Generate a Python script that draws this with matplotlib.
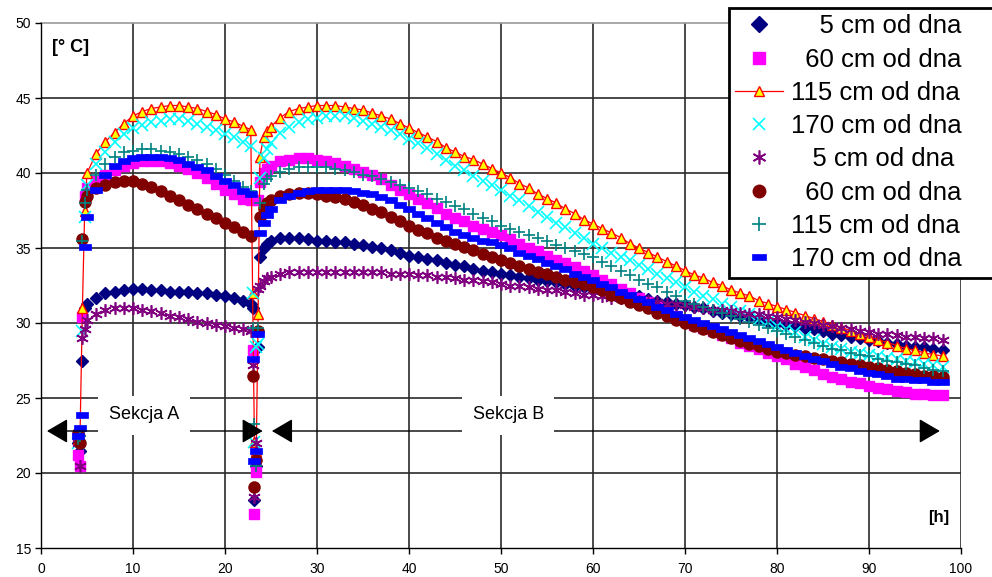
import matplotlib
matplotlib.use("Agg")
import matplotlib.pyplot as plt
from matplotlib.lines import Line2D
from matplotlib.patches import Rectangle

plt.rcParams['font.family'] = ['Liberation Sans', 'DejaVu Sans']

# ---------------- data ----------------
# time grid [h]: section A (filling + curve), transition, section B
t_A = [4.0, 4.25, 4.5, 4.75, 5, 6, 7, 8, 9, 10, 11, 12, 13, 14, 15, 16, 17,
       18, 19, 20, 21, 22, 22.8]
t_D = [23.0, 23.2, 23.4, 23.6]
t_B = [23.8, 24.2, 24.6] + list(range(25, 99))

labels = ["    5 cm od dna", "  60 cm od dna", "115 cm od dna", "170 cm od dna",
          "   5 cm od dna", "  60 cm od dna", "115 cm od dna", "170 cm od dna"]

s1_A = [22.0, 21.5, 27.5, 31.0, 31.3, 31.7, 32.0, 32.1, 32.2, 32.3, 32.3, 32.2,
        32.2, 32.1, 32.1, 32.1, 32.0, 32.0, 31.9, 31.8, 31.7, 31.5, 31.3]
s1_D = [31.0, 18.2, 20.5, 28.4]
s1_B = [34.4, 35.0, 35.3,
        35.5, 35.7, 35.7, 35.7, 35.6, 35.5, 35.5, 35.4, 35.4, 35.3,
        35.2, 35.1, 35.0, 34.9, 34.7, 34.5, 34.4, 34.3, 34.2, 34.0,
        33.9, 33.8, 33.6, 33.5, 33.4, 33.3, 33.2, 33.1, 33.0, 32.9,
        32.8, 32.7, 32.6, 32.5, 32.4, 32.3, 32.2, 32.1, 32.0, 31.9,
        31.8, 31.6, 31.5, 31.4, 31.3, 31.2, 31.1, 31.0, 30.8, 30.7,
        30.6, 30.5, 30.4, 30.3, 30.1, 30.0, 29.9, 29.8, 29.7, 29.6,
        29.5, 29.3, 29.2, 29.1, 29.0, 28.9, 28.8, 28.7, 28.6, 28.5,
        28.4, 28.4, 28.3, 28.2]

s2_A = [21.2, 20.5, 30.4, 38.5, 39.0, 39.5, 39.9, 40.2, 40.5, 40.7, 40.8, 40.8,
        40.8, 40.7, 40.5, 40.3, 40.0, 39.7, 39.3, 38.9, 38.6, 38.3, 38.2]
s2_D = [28.2, 17.3, 20.1, 38.2]
s2_B = [39.4, 40.0, 40.3,
        40.5, 40.8, 40.9, 41.0, 41.0, 40.9, 40.8, 40.7, 40.5, 40.3,
        40.1, 39.9, 39.6, 39.2, 38.9, 38.6, 38.3, 38.0, 37.7, 37.3,
        37.0, 36.8, 36.5, 36.3, 36.1, 35.9, 35.6, 35.3, 35.0, 34.8,
        34.5, 34.2, 34.0, 33.7, 33.5, 33.2, 32.9, 32.6, 32.3, 32.0,
        31.7, 31.4, 31.1, 30.8, 30.5, 30.2, 29.9, 29.7, 29.5, 29.2,
        29.0, 28.7, 28.5, 28.3, 28.0, 27.8, 27.6, 27.3, 27.1, 26.9,
        26.6, 26.4, 26.3, 26.1, 26.0, 25.8, 25.7, 25.6, 25.5, 25.4,
        25.3, 25.3, 25.2, 25.2]

s3_A = [22.3, 22.8, 31.0, 37.5, 40.0, 41.3, 42.1, 42.7, 43.3, 43.8, 44.1, 44.3,
        44.4, 44.5, 44.5, 44.4, 44.3, 44.1, 43.9, 43.6, 43.4, 43.1, 42.9]
s3_D = [32.0, 22.1, 21.5, 30.6]
s3_B = [41.1, 42.4, 42.8,
        43.1, 43.7, 44.1, 44.3, 44.4, 44.5, 44.5, 44.5, 44.4, 44.3,
        44.2, 44.0, 43.8, 43.6, 43.3, 43.0, 42.7, 42.4, 42.1, 41.7,
        41.4, 41.1, 40.9, 40.6, 40.3, 40.0, 39.7, 39.3, 39.0, 38.6,
        38.3, 38.0, 37.6, 37.3, 36.9, 36.6, 36.3, 36.0, 35.7, 35.3,
        35.0, 34.7, 34.4, 34.1, 33.8, 33.5, 33.2, 33.0, 32.7, 32.5,
        32.2, 32.0, 31.8, 31.5, 31.3, 31.1, 30.9, 30.7, 30.5, 30.3,
        30.1, 29.9, 29.7, 29.5, 29.3, 29.1, 28.9, 28.7, 28.5, 28.3,
        28.2, 28.0, 27.9, 27.8]

s4_A = [22.0, 22.5, 29.5, 37.1, 39.2, 40.6, 41.4, 42.1, 42.6, 43.0, 43.2, 43.4,
        43.5, 43.6, 43.6, 43.5, 43.3, 43.1, 42.9, 42.6, 42.4, 42.1, 41.8]
s4_D = [32.0, 22.1, 28.4, 28.6]
s4_B = [39.7, 41.0, 41.6,
        42.0, 42.7, 43.1, 43.4, 43.6, 43.7, 43.8, 43.8, 43.8, 43.7,
        43.5, 43.3, 43.1, 42.9, 42.6, 42.3, 42.0, 41.7, 41.3, 40.9,
        40.5, 40.2, 39.8, 39.5, 39.2, 38.9, 38.5, 38.2, 37.8, 37.4,
        37.1, 36.7, 36.4, 36.0, 35.7, 35.3, 35.0, 34.7, 34.4, 34.2,
        33.9, 33.6, 33.3, 33.0, 32.7, 32.4, 32.1, 31.8, 31.6, 31.3,
        31.1, 30.8, 30.6, 30.3, 30.1, 29.8, 29.6, 29.4, 29.1, 28.9,
        28.6, 28.4, 28.3, 28.1, 28.0, 27.9, 27.8, 27.7, 27.6, 27.5,
        27.4, 27.3, 27.2, 27.1]

s5_A = [22.0, 20.5, 29.0, 29.6, 30.2, 30.6, 30.9, 31.0, 31.0, 31.0, 30.9, 30.8,
        30.7, 30.5, 30.4, 30.3, 30.1, 30.0, 29.9, 29.8, 29.7, 29.6, 29.5]
s5_D = [27.2, 18.4, 22.0, 32.3]
s5_B = [32.5, 32.8, 33.0,
        33.1, 33.3, 33.4, 33.4, 33.4, 33.4, 33.4, 33.4, 33.4, 33.4,
        33.4, 33.4, 33.4, 33.3, 33.3, 33.3, 33.2, 33.2, 33.1, 33.1,
        33.0, 32.9, 32.9, 32.8, 32.7, 32.6, 32.5, 32.5, 32.4, 32.3,
        32.2, 32.2, 32.1, 32.0, 31.9, 31.9, 31.8, 31.7, 31.7, 31.6,
        31.5, 31.5, 31.4, 31.3, 31.3, 31.2, 31.1, 31.0, 30.9, 30.9,
        30.8, 30.7, 30.6, 30.6, 30.5, 30.4, 30.3, 30.2, 30.1, 30.0,
        29.9, 29.8, 29.7, 29.6, 29.5, 29.4, 29.3, 29.3, 29.2, 29.1,
        29.1, 29.0, 29.0, 28.9]

s6_A = [22.7, 22.0, 35.6, 38.1, 38.5, 39.0, 39.2, 39.4, 39.5, 39.5, 39.3, 39.1,
        38.8, 38.5, 38.2, 37.9, 37.6, 37.3, 37.0, 36.7, 36.4, 36.1, 35.8]
s6_D = [26.5, 19.1, 20.9, 29.5]
s6_B = [37.1, 37.7, 38.0,
        38.2, 38.5, 38.6, 38.7, 38.7, 38.6, 38.5, 38.4, 38.3, 38.1,
        37.9, 37.6, 37.4, 37.1, 36.8, 36.5, 36.2, 36.0, 35.7, 35.5,
        35.3, 35.1, 34.9, 34.6, 34.4, 34.2, 34.0, 33.8, 33.6, 33.4,
        33.3, 33.1, 32.9, 32.7, 32.6, 32.4, 32.2, 31.9, 31.7, 31.4,
        31.2, 31.0, 30.7, 30.5, 30.2, 30.0, 29.8, 29.6, 29.4, 29.2,
        29.0, 28.8, 28.6, 28.5, 28.3, 28.1, 28.0, 27.9, 27.8, 27.7,
        27.6, 27.5, 27.4, 27.3, 27.2, 27.1, 27.0, 26.9, 26.8, 26.7,
        26.6, 26.5, 26.5, 26.4]

s7_A = [22.3, 22.5, 35.5, 38.0, 38.9, 39.9, 40.6, 41.1, 41.4, 41.5, 41.6, 41.6,
        41.5, 41.4, 41.3, 41.1, 40.9, 40.6, 40.3, 39.9, 39.5, 39.1, 38.8]
s7_D = [29.7, 23.3, 20.5, 29.7]
s7_B = [38.0, 39.3, 39.6,
        39.8, 40.1, 40.3, 40.4, 40.4, 40.4, 40.4, 40.3, 40.2, 40.1,
        39.9, 39.8, 39.6, 39.4, 39.2, 39.0, 38.8, 38.6, 38.3, 38.1,
        37.8, 37.6, 37.3, 37.0, 36.8, 36.5, 36.3, 36.1, 35.9, 35.7,
        35.5, 35.2, 35.0, 34.8, 34.6, 34.4, 34.1, 33.8, 33.5, 33.2,
        32.9, 32.6, 32.4, 32.1, 31.8, 31.5, 31.3, 31.1, 30.9, 30.7,
        30.5, 30.3, 30.1, 29.9, 29.7, 29.5, 29.3, 29.1, 28.9, 28.7,
        28.5, 28.3, 28.2, 28.0, 27.9, 27.8, 27.6, 27.5, 27.4, 27.3,
        27.2, 27.0, 26.9, 26.8]

s8_A = [22.5, 23.0, 23.9, 35.1, 37.1, 38.9, 39.9, 40.5, 40.8, 41.0, 41.1, 41.1,
        41.1, 41.0, 40.9, 40.6, 40.4, 40.2, 39.8, 39.5, 39.2, 38.8, 38.6]
s8_D = [27.6, 20.8, 21.5, 29.3]
s8_B = [36.0, 36.7, 37.2,
        37.6, 38.2, 38.5, 38.7, 38.8, 38.9, 38.9, 38.9, 38.9, 38.8,
        38.7, 38.6, 38.4, 38.2, 37.9, 37.6, 37.3, 37.0, 36.7, 36.4,
        36.1, 35.9, 35.7, 35.5, 35.4, 35.2, 35.0, 34.7, 34.5, 34.3,
        34.0, 33.8, 33.6, 33.3, 33.1, 32.9, 32.6, 32.4, 32.1, 31.9,
        31.6, 31.4, 31.1, 30.9, 30.6, 30.4, 30.2, 30.0, 29.8, 29.6,
        29.4, 29.2, 29.0, 28.8, 28.6, 28.4, 28.2, 28.0, 27.8, 27.6,
        27.5, 27.3, 27.1, 27.0, 26.8, 26.7, 26.6, 26.5, 26.3, 26.3,
        26.2, 26.2, 26.1, 26.1]

x_ticks = list(range(0, 101, 10))
y_ticks = list(range(15, 51, 5))

# ---------------- figure ----------------
fig = plt.figure(figsize=(9.92, 5.77), dpi=100)
ax = fig.add_axes([41 / 992, 1 - 548 / 577, 920 / 992, 525 / 577])
ax.set_xlim(0, 100)
ax.set_ylim(15, 50)

# grid
for xv in x_ticks[1:]:
    ax.axvline(xv, color='#2a2a2a', lw=1.2, zorder=0.5)
for yv in y_ticks[1:-1]:
    ax.axhline(yv, color='#2a2a2a', lw=1.2, zorder=0.5)
ax.axhline(50, color='#999999', lw=1.2, zorder=0.5, clip_on=False)

t_all = t_A + t_D + t_B

dash = [(-1, -0.42), (1, -0.42), (1, 0.42), (-1, 0.42), (-1, -0.42)]
star6 = (6, 2, 0)

styles = [
    dict(marker='D', ls='none', mfc='#000080', mec='#000080', ms=6.5),
    dict(marker='s', ls='none', mfc='#FF00FF', mec='#FF00FF', ms=7.5),
    dict(marker='^', ls='-', color='#FF0000', lw=0.9, mfc='#FFFF00', mec='#FF0000', ms=7.5, mew=1.0),
    dict(marker='x', ls='none', color='#00FFFF', mec='#00FFFF', ms=8, mew=1.2),
    dict(marker=star6, ls='none', color='#800080', mec='#800080', ms=9, mew=1.2),
    dict(marker='o', ls='none', mfc='#800000', mec='#800000', ms=8),
    dict(marker='+', ls='none', color='#008080', mec='#008080', ms=9, mew=1.2),
    dict(marker=dash, ls='none', mfc='#0000FF', mec='#0000FF', ms=9, mew=0.5),
]

series = [
    s1_A + s1_D + s1_B, s2_A + s2_D + s2_B, s3_A + s3_D + s3_B, s4_A + s4_D + s4_B,
    s5_A + s5_D + s5_B, s6_A + s6_D + s6_B, s7_A + s7_D + s7_B, s8_A + s8_D + s8_B,
]

for vals, st in zip(series, styles):
    ax.plot(t_all, vals, zorder=2, **st)

# spines & ticks
for side in ['top', 'right']:
    ax.spines[side].set_visible(False)
for side in ['left', 'bottom']:
    ax.spines[side].set_color('black')
    ax.spines[side].set_linewidth(1.0)
ax.set_xticks(x_ticks)
ax.set_yticks(y_ticks)
ax.tick_params(direction='out', length=4, width=1, labelsize=10, colors='black', pad=3)
ax.tick_params(axis='x', pad=6)

# unit labels
ax.text(1.2, 48.35, '[° C]', fontsize=13, fontweight='bold', ha='left', va='center')
ax.text(96.4, 17.05, '[h]', fontsize=12, fontweight='bold', ha='left', va='center')

# section arrows
arrow_y = 22.8
for x0, x1 in [(0.65, 24.1), (25.1, 97.7)]:
    ax.annotate('', xy=(x1, arrow_y), xytext=(x0, arrow_y),
                arrowprops=dict(arrowstyle='<|-|>,head_length=0.65,head_width=0.38',
                                mutation_scale=20, color='black', lw=1.0,
                                shrinkA=0, shrinkB=0),
                zorder=5)
# text boxes
for (bx0, bx1, lbl) in [(6.2, 16.2, 'Sekcja A'), (45.8, 55.8, 'Sekcja B')]:
    ax.add_patch(Rectangle((bx0, 22.55), bx1 - bx0, 2.6, facecolor='white',
                           edgecolor='none', zorder=6))
    ax.text((bx0 + bx1) / 2, 23.9, lbl, fontsize=13, ha='center', va='center', zorder=7)

# legend
handles = []
leg_ms = [8, 9, 7.5, 9, 10, 9, 10, 10]
for st, lbl, m in zip(styles, labels, leg_ms):
    kw = dict(st)
    kw['ms'] = m
    handles.append(Line2D([], [], **kw))
leg = fig.legend(handles=handles, labels=labels, loc='upper left',
                 bbox_to_anchor=(729 / 992, 1 - 280 / 577, 290 / 992, 272 / 577),
                 bbox_transform=fig.transFigure, mode='expand',
                 fontsize=18.5, frameon=True, fancybox=False, shadow=False,
                 framealpha=1, edgecolor='black', handlelength=1.85,
                 handletextpad=0.3, borderpad=0.25, labelspacing=0.36,
                 borderaxespad=0, numpoints=1)
leg.get_frame().set_linewidth(2.0)

fig.savefig('out.png', dpi=100)
